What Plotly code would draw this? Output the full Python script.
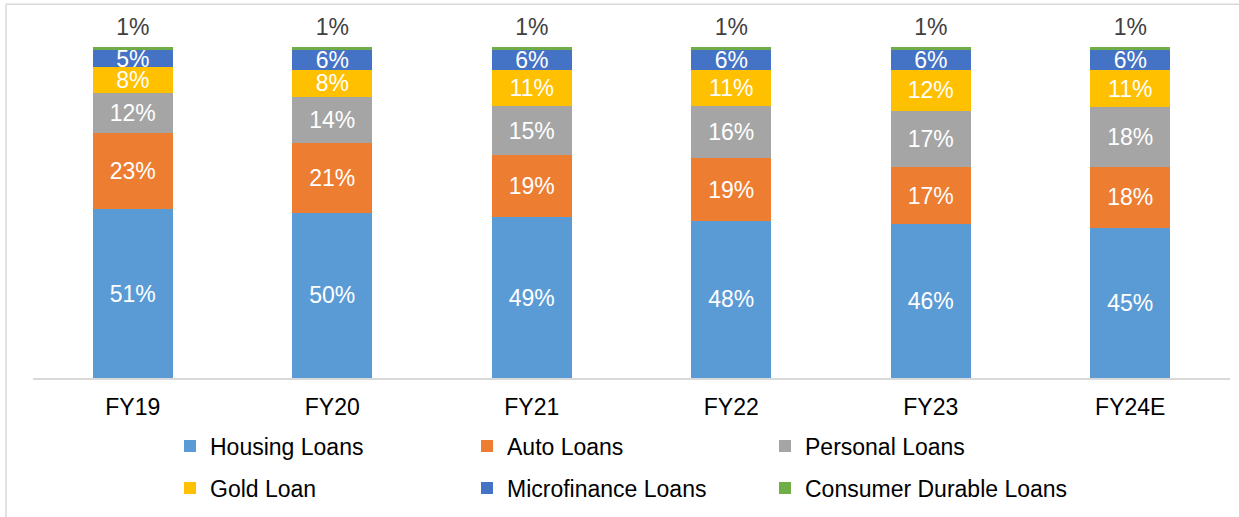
import plotly.graph_objects as go

years = ["FY19", "FY20", "FY21", "FY22", "FY23", "FY24E"]
housing = [51, 50, 49, 48, 46, 45]
auto = [23, 21, 19, 19, 17, 18]
personal = [12, 14, 15, 16, 17, 18]
gold = [8, 8, 11, 11, 12, 11]
microfinance = [5, 6, 6, 6, 6, 6]
consumer = [1, 1, 1, 1, 1, 1]

series = [
    ("Housing Loans", housing, "#5B9BD5", "legend"),
    ("Auto Loans", auto, "#ED7D31", "legend"),
    ("Personal Loans", personal, "#A5A5A5", "legend3"),
    ("Gold Loan", gold, "#FFC000", "legend2"),
    ("Microfinance Loans", microfinance, "#4472C4", "legend2"),
    ("Consumer Durable Loans", consumer, "#70AD47", "legend4"),
]

FONT = "Liberation Sans, Arial, sans-serif"
FS = 23

fig = go.Figure()
for i, (name, vals, color, leg) in enumerate(series):
    last = i == len(series) - 1
    fig.add_trace(go.Bar(
        name=name,
        x=years,
        y=vals,
        text=None if last else [f"{v}%" for v in vals],
        textposition="none" if last else "inside",
        insidetextanchor="middle",
        textangle=0,
        constraintext="none",
        textfont=dict(family=FONT, size=FS, color="white"),
        marker=dict(color=color, line=dict(width=0)),
        legend=leg,
        hoverinfo="skip",
    ))

# labels for the thin top segment, placed above each (normalised) stack
totals = [sum(s[1][j] for s in series) for j in range(len(years))]
stack_top = [t / t * 100 for t in totals]
fig.add_trace(go.Scatter(
    x=years,
    y=stack_top,
    mode="markers+text",
    marker=dict(size=8, opacity=0),
    text=[f"{v}%" for v in consumer],
    textposition="top center",
    textfont=dict(family=FONT, size=FS, color="#404040"),
    cliponaxis=False,
    showlegend=False,
    hoverinfo="skip",
))

legend_common = dict(
    orientation="h",
    traceorder="normal",
    xanchor="left",
    yanchor="middle",
    entrywidth=252,
    entrywidthmode="pixels",
    font=dict(family=FONT, size=FS, color="#000000"),
    bgcolor="rgba(0,0,0,0)",
)
lx = (170 - 33) / 1197
lx3 = (765 - 33) / 1197
row1 = -(446 - 379) / 332
row2 = -(488 - 379) / 332

fig.update_layout(
    width=1239,
    height=517,
    barmode="stack",
    barnorm="percent",
    bargap=0.6,
    margin=dict(l=33, r=9, t=47, b=138),
    paper_bgcolor="white",
    plot_bgcolor="white",
    font=dict(family=FONT, size=FS, color="#000000"),
    showlegend=True,
    legend=dict(legend_common, x=lx, y=row1),
    legend2=dict(legend_common, x=lx, y=row2),
    legend3=dict(legend_common, x=lx3, y=row1, entrywidth=0),
    legend4=dict(legend_common, x=lx3, y=row2, entrywidth=0),
    xaxis=dict(
        showline=True,
        linecolor="#D9D9D9",
        linewidth=1.5,
        showgrid=False,
        ticks="",
        ticklabelstandoff=8,
        tickfont=dict(family=FONT, size=FS, color="#000000"),
        fixedrange=True,
    ),
    yaxis=dict(visible=False, range=[0, 100], fixedrange=True),
    shapes=[dict(
        type="rect", xref="paper", yref="paper",
        x0=(6 - 33) / 1197, x1=1.2, y0=-0.6, y1=(379 - 4) / 332,
        line=dict(color="#D9D9D9", width=1.5), fillcolor="rgba(0,0,0,0)",
        layer="below",
    )],
)

fig.write_html(
    "out.html",
    config={"displayModeBar": False},
    post_script="document.body.style.margin='0';document.body.style.overflow='hidden';",
)
